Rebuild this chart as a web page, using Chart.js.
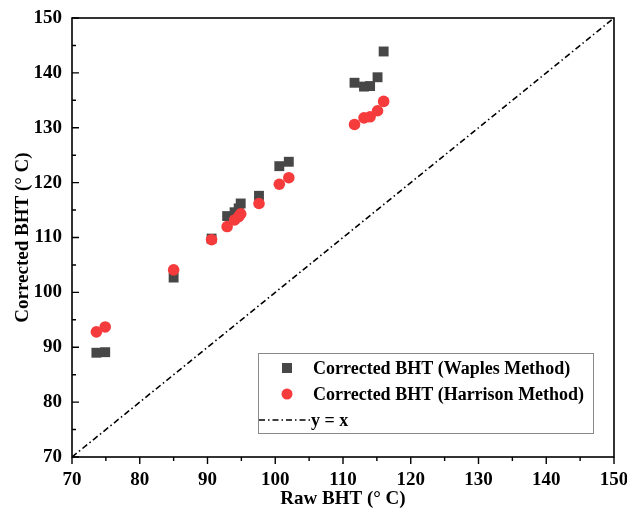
<!DOCTYPE html>
<html>
<head>
<meta charset="utf-8">
<title>Corrected BHT vs Raw BHT</title>
<script src="https://cdn.jsdelivr.net/npm/chart.js@4.4.1/dist/chart.umd.min.js"></script>
<style>
  html, body { margin: 0; padding: 0; background: #fff; }
  #wrap { width: 627px; height: 514px; }
</style>
</head>
<body>
<div id="wrap"><canvas id="bht" width="627" height="514"></canvas></div>
<script>
// Raw bottom-hole temperatures and the two corrections (degrees C)
const rawBHT = [73.6, 74.9, 85.0, 90.6, 92.9, 94.0, 94.6, 94.9, 97.6, 100.6, 102.0, 111.7, 113.1, 114.0, 115.1, 116.0];
const waplesBHT = [89.0, 89.1, 102.7, 109.8, 113.9, 114.6, 115.3, 116.2, 117.6, 123.0, 123.8, 138.2, 137.5, 137.6, 139.2, 143.9];
const harrisonBHT = [92.8, 93.7, 104.1, 109.6, 112.0, 113.2, 113.8, 114.3, 116.2, 119.7, 120.9, 130.6, 131.8, 132.0, 133.1, 134.8];

// Reference line y = x over the full axis range
const identityRange = [70, 150];

const axisMin = 70;
const axisMax = 150;
const majorStep = 10;
const minorStep = 5;

const serif = "'Liberation Serif', 'Times New Roman', serif";
const dashDot = [6, 3, 1.5, 3];

const COLORS = {
    waples: '#474747',
    harrison: '#f53b3b',
    line: '#000000'
};

const legendItems = [
    { label: 'Corrected BHT (Waples Method)', kind: 'rect', color: COLORS.waples },
    { label: 'Corrected BHT (Harrison Method)', kind: 'circle', color: COLORS.harrison },
    { label: 'y = x', kind: 'line', color: COLORS.line }
];

function toPoints(xs, ys) {
    return xs.map((x, i) => ({ x: x, y: ys[i] }));
}

// Box around the plot area plus major/minor tick marks
// (x ticks hang outside, y ticks point into the plot)
const frameAndTicks = {
    id: 'frameAndTicks',
    afterDraw(chart) {
        const { ctx, chartArea: a, scales } = chart;
        ctx.save();
        ctx.strokeStyle = '#000';
        ctx.lineWidth = 1.6;
        ctx.strokeRect(a.left, a.top, a.right - a.left, a.bottom - a.top);

        ctx.lineWidth = 1.4;
        ctx.beginPath();
        for (let v = axisMin; v <= axisMax; v += minorStep) {
            const len = (v % majorStep === 0) ? 7 : 4;
            const px = scales.x.getPixelForValue(v);
            ctx.moveTo(px, a.bottom);
            ctx.lineTo(px, a.bottom + len);
            const py = scales.y.getPixelForValue(v);
            ctx.moveTo(a.left, py);
            ctx.lineTo(a.left + len, py);
        }
        ctx.stroke();
        ctx.restore();
    }
};

// Legend box in the lower right of the plot
const boxLegend = {
    id: 'boxLegend',
    afterDraw(chart) {
        const { ctx } = chart;
        const left = 258, top = 353, width = 335, height = 80;
        ctx.save();
        ctx.fillStyle = '#fff';
        ctx.fillRect(left, top, width, height);
        ctx.strokeStyle = '#8a8a8a';
        ctx.lineWidth = 1;
        ctx.strokeRect(left + 0.5, top + 0.5, width, height);

        ctx.font = 'bold 18px ' + serif;
        ctx.textBaseline = 'middle';
        const rows = [368, 394, 420];
        legendItems.forEach((item, i) => {
            const y = rows[i];
            ctx.fillStyle = item.color;
            ctx.strokeStyle = item.color;
            if (item.kind === 'rect') {
                ctx.fillRect(282, y - 5, 10, 10);
            } else if (item.kind === 'circle') {
                ctx.beginPath();
                ctx.arc(287, y, 5.5, 0, Math.PI * 2);
                ctx.fill();
            } else {
                ctx.lineWidth = 1.6;
                ctx.setLineDash(dashDot);
                ctx.beginPath();
                ctx.moveTo(259, y);
                ctx.lineTo(310, y);
                ctx.stroke();
                ctx.setLineDash([]);
            }
            ctx.fillStyle = '#000';
            ctx.fillText(item.label, item.kind === 'line' ? 311 : 313, y + 1);
        });
        ctx.restore();
    }
};

const ctx = document.getElementById('bht');

new Chart(ctx, {
    type: 'scatter',
    data: {
        datasets: [
            {
                label: 'Corrected BHT (Waples Method)',
                data: toPoints(rawBHT, waplesBHT),
                pointStyle: 'rect',
                pointRadius: 7,
                pointBackgroundColor: COLORS.waples,
                pointBorderWidth: 0,
                order: 2
            },
            {
                label: 'Corrected BHT (Harrison Method)',
                data: toPoints(rawBHT, harrisonBHT),
                pointStyle: 'circle',
                pointRadius: 5.8,
                pointBackgroundColor: COLORS.harrison,
                pointBorderWidth: 0,
                order: 1
            },
            {
                type: 'line',
                label: 'y = x',
                data: toPoints(identityRange, identityRange),
                borderColor: COLORS.line,
                borderWidth: 1.6,
                borderDash: dashDot,
                pointRadius: 0,
                fill: false,
                order: 3
            }
        ]
    },
    options: {
        responsive: false,
        animation: false,
        layout: {
            padding: { top: 18, right: 13, left: 0, bottom: 0 }
        },
        plugins: {
            legend: { display: false },
            tooltip: { enabled: false }
        },
        scales: {
            x: {
                type: 'linear',
                min: axisMin,
                max: axisMax,
                border: { display: false },
                grid: { display: false, drawTicks: false },
                ticks: {
                    stepSize: majorStep,
                    padding: 12,
                    color: '#000',
                    font: { family: serif, size: 19, weight: 'bold' }
                },
                title: {
                    display: true,
                    text: 'Raw BHT (° C)',
                    color: '#000',
                    padding: { top: 0, bottom: 4 },
                    font: { family: serif, size: 19, weight: 'bold' }
                },
                afterFit(scale) {
                    scale.height = 57;
                    // let the end labels overhang instead of shrinking the plot
                    scale.paddingLeft = 0;
                    scale.paddingRight = 0;
                }
            },
            y: {
                type: 'linear',
                min: axisMin,
                max: axisMax,
                border: { display: false },
                grid: { display: false, drawTicks: false },
                ticks: {
                    stepSize: majorStep,
                    padding: 10,
                    color: '#000',
                    font: { family: serif, size: 19, weight: 'bold' }
                },
                title: {
                    display: true,
                    text: 'Corrected BHT (° C)',
                    color: '#000',
                    padding: { top: 12, bottom: 0 },
                    font: { family: serif, size: 19, weight: 'bold' }
                },
                afterFit(scale) {
                    scale.width = 72;
                    scale.paddingTop = 0;
                    scale.paddingBottom = 0;
                }
            }
        }
    },
    plugins: [frameAndTicks, boxLegend]
});
</script>
</body>
</html>
